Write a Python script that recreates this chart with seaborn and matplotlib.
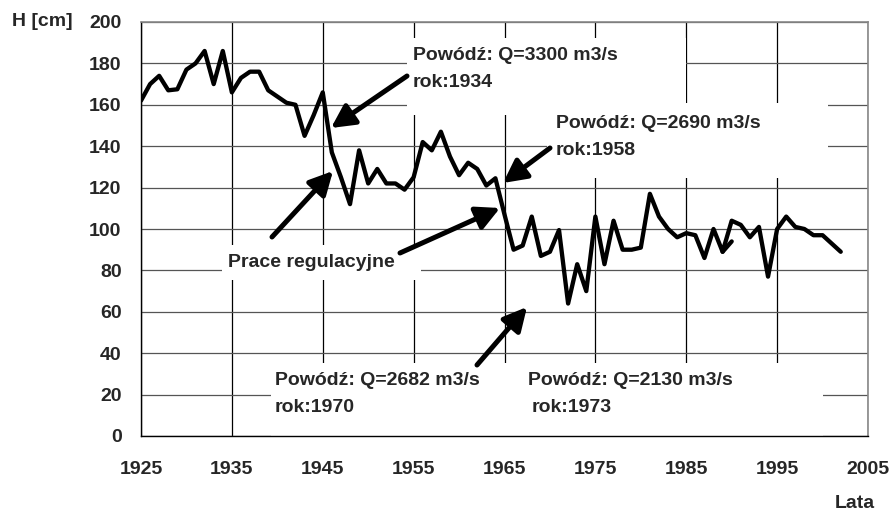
import matplotlib
matplotlib.use("Agg")
import matplotlib.pyplot as plt
import seaborn as sns
import pandas as pd
from matplotlib.patches import Rectangle
from matplotlib.transforms import IdentityTransform

# ---- data ----
years = list(range(1925, 2003))
levels = [162, 170, 174, 167, 167.5, 177, 180, 186, 170, 186,
          166, 173, 176, 176, 167, 164, 161, 160, 145, 155,
          166, 137, 125, 112, 138, 122, 129, 122, 122, 119,
          125, 142, 138, 147, 135, 126, 132, 129, 121, 124.5,
          107, 90, 92, 106, 87, 89, 99.5, 64, 83, 70,
          106, 83, 104, 90, 90, 91, 117, 106, 100, 96,
          98, 97, 86, 100, 89, 104, 102, 96, 101, 77,
          100, 106, 101, 100, 97, 97, 93, 89]
spur_years = [1989, 1990]
spur_levels = [89, 94]

x_ticks = list(range(1925, 2006, 10))
y_ticks = list(range(0, 201, 20))

notes = [
    ("Powódź: Q=3300 m3/s", 413, 60),
    ("rok:1934", 413, 87),
    ("Powódź: Q=2690 m3/s", 556, 128),
    ("rok:1958", 556, 155),
    ("Prace regulacyjne", 228, 267),
    ("Powódź: Q=2682 m3/s", 275, 385),
    ("rok:1970", 275, 412),
    ("Powódź: Q=2130 m3/s", 528, 385),
    ("rok:1973", 532, 412),
]
# arrows: (tail x, tail y, head x, head y) in image pixels
arrows = [
    (407, 76, 331, 128),
    (550, 148, 503, 183),
    (272, 237, 333, 171),
    (400, 253, 500, 208),
    (477, 365, 527, 307),
]
# white label boxes (x0, y0, x1, y1) in image pixels
boxes = [
    (407, 38, 686, 115),
    (547, 103, 828, 178),
    (222, 245, 421, 280),
    (271, 363, 823, 440),
]

W, H = 891, 513

sns.set_style("white")
plt.rcParams["font.family"] = ["Liberation Sans", "DejaVu Sans"]
plt.rcParams["font.weight"] = "bold"

fig = plt.figure(figsize=(W / 100, H / 100), dpi=100)
ax = fig.add_axes([141 / W, 1 - 436 / H, 727 / W, 414 / H])

df = pd.DataFrame({"Rok": years, "H": levels})
sp = pd.DataFrame({"Rok": spur_years, "H": spur_levels})
sns.lineplot(data=df, x="Rok", y="H", color="black", linewidth=3.1, ax=ax, zorder=3)
sns.lineplot(data=sp, x="Rok", y="H", color="black", linewidth=3.1, ax=ax, zorder=3)

ax.set_xlim(1925, 2005)
ax.set_ylim(0, 200)
ax.set_xticks(x_ticks)
ax.set_yticks(y_ticks)
ax.set_xlabel("")
ax.set_ylabel("")

ax.set_axisbelow(True)
ax.grid(axis="x", color="black", linewidth=0.9)
ax.grid(axis="y", color="#555555", linewidth=0.9)

for s in ["left", "bottom"]:
    ax.spines[s].set_color("black")
    ax.spines[s].set_linewidth(1)
for s in ["top", "right"]:
    ax.spines[s].set_color("#888888")
    ax.spines[s].set_linewidth(1.2)

ax.tick_params(axis="both", direction="out", length=5, width=1, color="black",
               labelsize=14)
ax.tick_params(axis="x", pad=13)
ax.tick_params(axis="y", pad=9)
for lab in ax.get_xticklabels() + ax.get_yticklabels():
    lab.set_fontweight("bold")

ident = IdentityTransform()
for x0, y0, x1, y1 in boxes:
    ax.add_patch(Rectangle((x0, H - y1), x1 - x0, y1 - y0, transform=ident,
                           facecolor="white", edgecolor="none", zorder=1))

for txt, x, y in notes:
    ax.annotate(txt, xy=(x, H - y), xycoords="figure pixels", ha="left",
                va="baseline", fontsize=14, fontweight="bold", zorder=4,
                annotation_clip=False)

for tx, ty, hx, hy in arrows:
    ax.annotate("", xy=(hx, H - hy), xycoords="figure pixels",
                xytext=(tx, H - ty), textcoords="figure pixels",
                arrowprops=dict(arrowstyle="-|>,head_length=0.7,head_width=0.36",
                                mutation_scale=20, lw=3.6, color="black",
                                shrinkA=0, shrinkB=0),
                zorder=5, annotation_clip=False)

fig.text(12 / W, 1 - 22 / H, "H [cm]", ha="left", va="center",
         fontsize=14, fontweight="bold")
fig.text(835 / W, 1 - 504 / H, "Lata", ha="left", va="center",
         fontsize=14, fontweight="bold")

fig.savefig("out.png", dpi=100)
